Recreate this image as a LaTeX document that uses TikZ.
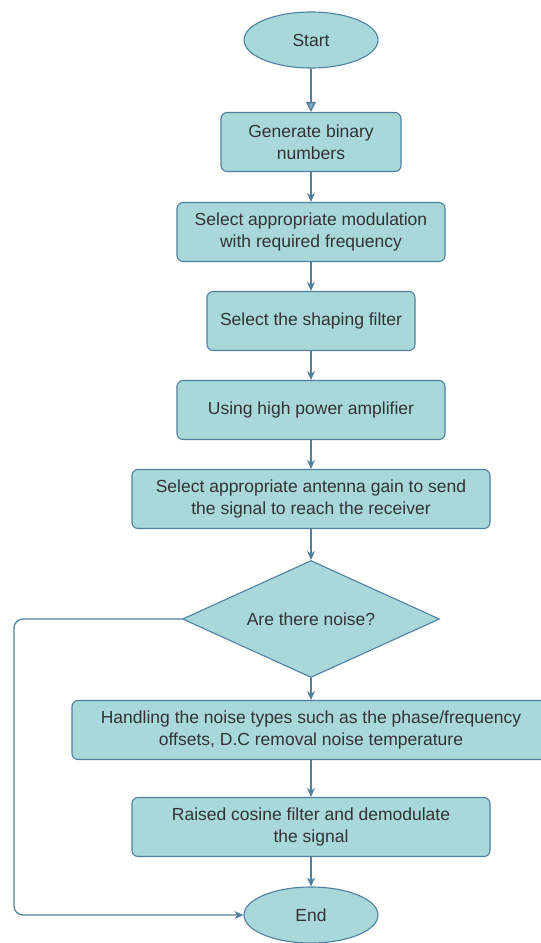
\documentclass[tikz,border=0pt]{standalone}
\usepackage{fontspec}
\setmainfont{Liberation Sans}
\usetikzlibrary{shapes.geometric,arrows.meta}

\begin{document}
\begin{tikzpicture}[x=1pt, y=-1pt, >={Stealth[length=9pt,width=8pt]},
    font=\fontsize{17.5}{22}\selectfont,
    flow/.style={draw=edgeblue, fill=boxfill, text=textgray, line width=1.1pt, align=center},
    stepbox/.style={flow, rounded corners=6pt, minimum height=59pt, inner sep=2pt},
    term/.style={flow, ellipse, minimum width=134pt, minimum height=56pt, inner sep=0pt},
    decide/.style={flow, diamond, aspect=2.2, minimum width=257pt, minimum height=117pt, inner sep=0pt},
    link/.style={->, draw=edgeblue, line width=1.3pt}]
    \definecolor{boxfill}{RGB}{168, 216, 218}
    \definecolor{edgeblue}{RGB}{80, 128, 160}
    \definecolor{textgray}{RGB}{51, 51, 51}

    \useasboundingbox (0,0) rectangle (541,943);

    % 起止与处理步骤
    \node[term] (start) at (311,40) {Start};
    \node[stepbox, minimum width=180pt] (gen) at (311,142) {Generate binary\\numbers};
    \node[stepbox, minimum width=268pt] (mod) at (311,232) {Select appropriate modulation\\with required frequency};
    \node[stepbox, minimum width=208pt] (shape) at (311,321) {Select the shaping filter};
    \node[stepbox, minimum width=268pt] (amp) at (311,410) {Using high power amplifier};
    \node[stepbox, minimum width=358pt] (ant) at (311,499) {Select appropriate antenna gain to send\\ the signal to reach the receiver};
    \node[decide] (noise) at (311,619) {Are there noise?};
    \node[stepbox, minimum width=478pt] (handle) at (311,730) {Handling the noise types such as the phase/frequency\\offsets, D.C removal noise temperature};
    \node[stepbox, minimum width=358pt] (demod) at (311,827) {Raised cosine filter and demodulate\\the signal};
    \node[term] (end) at (311,915) {End};

    % 箭头
    \draw[draw=edgeblue, line width=1.3pt, -{Triangle[open, length=10pt, width=10pt, fill=edgeblue!70]}] (start) -- (gen);
    \draw[link] (gen) -- (mod);
    \draw[link] (mod) -- (shape);
    \draw[link] (shape) -- (amp);
    \draw[link] (amp) -- (ant);
    \draw[link] (ant) -- (noise);
    \draw[link] (noise) -- (handle);
    \draw[link] (handle) -- (demod);
    \draw[link] (demod) -- (end);

    % 无噪声时直接到结束
    \coordinate (side) at (14,619);
    \draw[link, rounded corners=9pt] (noise.west) -- (side) -- (side |- end.west) -- (end.west);
\end{tikzpicture}
\end{document}
